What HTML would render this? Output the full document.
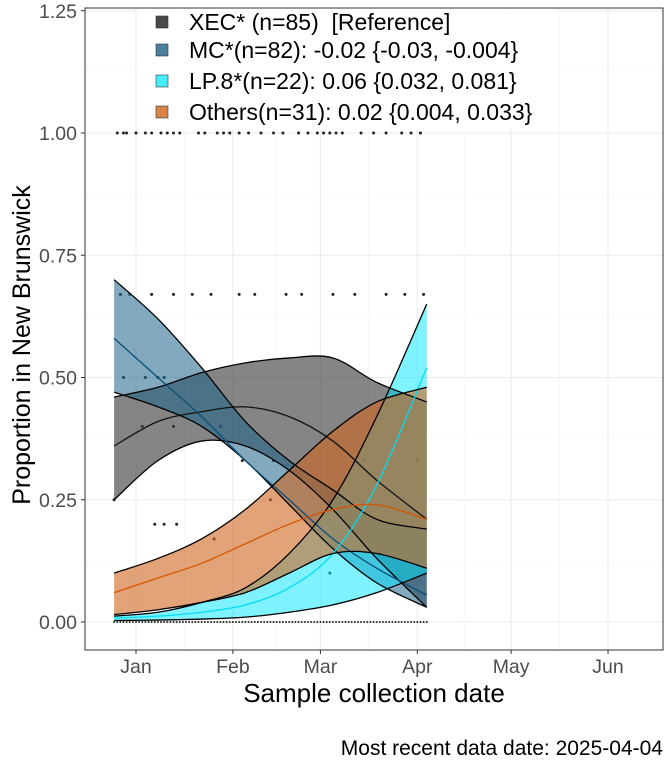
<!DOCTYPE html>
<html><head><meta charset="utf-8"><style>
body{margin:0;background:#fff}
svg{display:block;font-family:"Liberation Sans",Arial,sans-serif}
</style></head><body>
<svg id="chart" width="672" height="768" viewBox="0 0 672 768" xmlns="http://www.w3.org/2000/svg"></svg>
<script>
// ---- data ----
const days = [-7, 7, 21, 35, 49, 63, 77, 93];
const xecFit = [0.36, 0.41, 0.43, 0.44, 0.42, 0.37, 0.29, 0.21];
const xecLo  = [0.25, 0.33, 0.37, 0.36, 0.31, 0.23, 0.13, 0.03];
const xecHi  = [0.46, 0.48, 0.51, 0.53, 0.54, 0.54, 0.49, 0.45];
const mcFit = [0.58, 0.50, 0.42, 0.33, 0.25, 0.17, 0.11, 0.055];
const mcLo  = [0.47, 0.44, 0.40, 0.33, 0.24, 0.15, 0.08, 0.03];
const mcHi  = [0.70, 0.62, 0.52, 0.41, 0.33, 0.27, 0.21, 0.19];
const lpFit = [0.008, 0.012, 0.02, 0.035, 0.07, 0.14, 0.28, 0.52];
const lpLo  = [0.003, 0.004, 0.006, 0.01, 0.02, 0.035, 0.06, 0.10];
const lpHi  = [0.012, 0.02, 0.04, 0.07, 0.14, 0.25, 0.42, 0.65];
const otFit = [0.06, 0.09, 0.12, 0.16, 0.20, 0.23, 0.24, 0.21];
const otLo  = [0.015, 0.025, 0.04, 0.06, 0.10, 0.14, 0.14, 0.11];
const otHi  = [0.10, 0.13, 0.17, 0.23, 0.31, 0.39, 0.45, 0.48];
const yTicks = [0, 0.25, 0.5, 0.75, 1.0, 1.25];
const yTickLabels = ["0.00", "0.25", "0.50", "0.75", "1.00", "1.25"];
const xTickDays = [0, 31, 59, 90, 120, 151];
const xTickLabels = ["Jan", "Feb", "Mar", "Apr", "May", "Jun"];
const dotDays = [-6,-4,-3,0,3,5,8,10,12,14,20,22,26,28,30,33,36,40,44,47,52,55,58,60,62,64,66,72,76,80,85,88,91,-5,-2,5,12,18,24,33,38,48,53,63,70,80,86,92,-4,3,7,9,12,27,34,44,-7,2,6,9,13,25,43,62,73,90];
const dotVals = [1,1,1,1,1,1,1,1,1,1,1,1,1,1,1,1,1,1,1,1,1,1,1,1,1,1,1,1,1,1,1,1,1,0.67,0.67,0.67,0.67,0.67,0.67,0.67,0.67,0.67,0.67,0.67,0.67,0.67,0.67,0.67,0.5,0.5,0.5,0.5,0.4,0.4,0.33,0.33,0.25,0.4,0.2,0.2,0.2,0.17,0.25,0.1,0.33,0.33,0.33];

// ---- scales ----
const X0 = 136, PXD = 3.126, Y0 = 622, PXV = 489;
const sx = d => X0 + d * PXD;
const sy = v => Y0 - v * PXV;
const NS = "http://www.w3.org/2000/svg";
const svg = document.getElementById("chart");
function mk(tag, attrs, parent) {
  const e = document.createElementNS(NS, tag);
  for (const k in attrs) e.setAttribute(k, attrs[k]);
  (parent || svg).appendChild(e);
  return e;
}
function smooth(pts) {
  let d = "M" + pts[0][0] + "," + pts[0][1];
  for (let i = 0; i < pts.length - 1; i++) {
    const p0 = pts[Math.max(0, i - 1)], p1 = pts[i], p2 = pts[i + 1], p3 = pts[Math.min(pts.length - 1, i + 2)];
    const c1 = [p1[0] + (p2[0] - p0[0]) / 6, p1[1] + (p2[1] - p0[1]) / 6];
    const c2 = [p2[0] - (p3[0] - p1[0]) / 6, p2[1] - (p3[1] - p1[1]) / 6];
    d += " C" + c1 + " " + c2 + " " + p2;
  }
  return d;
}
const pts = arr => days.map((d, i) => [sx(d), sy(arr[i])]);

const bg = mk("rect", {x: 85, y: 8, width: 578, height: 642, fill: "#fff"});


[0.125, 0.375, 0.625, 0.875, 1.125].forEach(v => {
  const l = mk("line", {x1: 85, x2: 663, y1: sy(v), y2: sy(v), stroke: "#f3f3f3", "stroke-width": 0.6});
  
  
});
[-15.5, 15.5, 45, 74.5, 105, 135.5].forEach(d => {
  const l = mk("line", {x1: sx(d), x2: sx(d), y1: 8, y2: 650, stroke: "#f3f3f3", "stroke-width": 0.6});
  
  
});
yTicks.forEach(v => {
  const l = mk("line", {x1: 85, x2: 663, y1: sy(v), y2: sy(v), stroke: "#ebebeb", "stroke-width": 1.1});
  
  
});
xTickDays.forEach(d => {
  const l = mk("line", {x1: sx(d), x2: sx(d), y1: 8, y2: 650, stroke: "#ebebeb", "stroke-width": 1.1});
  
  
});

dotDays.forEach((d, i) => {
  const c = mk("circle", {cx: sx(d), cy: sy(dotVals[i]), r: 1.5, fill: "#222"});
  
  
});
for (let d = -7; d <= 93; d += 1) {
  const c = mk("circle", {cx: sx(d), cy: sy(0), r: 1, fill: "#222"});
  
  
}

const series = [
  {name: "xec", lo: xecLo, hi: xecHi, fit: xecFit, fill: "#3a3a3a", op: 0.62, line: "#111"},
  {name: "mc", lo: mcLo, hi: mcHi, fit: mcFit, fill: "#1d6289", op: 0.55, line: "#0a4f78"},
  {name: "lp8", lo: lpLo, hi: lpHi, fit: lpFit, fill: "#00e5ff", op: 0.5, line: "#00dcf5"},
  {name: "others", lo: otLo, hi: otHi, fit: otFit, fill: "#d0661e", op: 0.6, line: "#d35400"}
];
series.forEach(s => {
  const hp = pts(s.hi), lp = pts(s.lo).reverse();
  const d = smooth(hp) + " L" + lp[0] + smooth(lp).replace(/^M[^ C]+/, "") + " Z";
  const r = mk("path", {d: d, fill: s.fill, "fill-opacity": s.op, stroke: "none"});
  
  
});
series.forEach(s => {
  [s.hi, s.lo].forEach((arr, j) => {
    const e = mk("path", {d: smooth(pts(arr)), fill: "none", stroke: "#000", "stroke-width": 1.3});
    
    
  });
  const f = mk("path", {d: smooth(pts(s.fit)), fill: "none", stroke: s.line, "stroke-width": 1.3});
  
  
});

const br = mk("rect", {x: 85, y: 8, width: 578, height: 642, fill: "none", stroke: "#333", "stroke-width": 1});



yTicks.forEach((v, i) => {
  const t = mk("line", {x1: 81, x2: 85, y1: sy(v), y2: sy(v), stroke: "#333"});
  
  
  const l = mk("text", {x: 77, y: sy(v) + 7, "text-anchor": "end", "font-size": 19.5, fill: "#4d4d4d"});
  l.textContent = yTickLabels[i];
  
  
});
xTickDays.forEach((d, i) => {
  const t = mk("line", {x1: sx(d), x2: sx(d), y1: 650, y2: 654, stroke: "#333"});
  
  
  const l = mk("text", {x: sx(d), y: 673, "text-anchor": "middle", "font-size": 19.5, fill: "#4d4d4d"});
  l.textContent = xTickLabels[i];
  
  
});

const xt = mk("text", {x: 374, y: 702, "text-anchor": "middle", "font-size": 26, fill: "#000"});
xt.textContent = "Sample collection date";


const yt = mk("text", {x: 0, y: 0, "text-anchor": "middle", "font-size": 25, fill: "#000", transform: "translate(30,345) rotate(-90)"});
yt.textContent = "Proportion in New Brunswick";


const cap = mk("text", {x: 663, y: 755, "text-anchor": "end", "font-size": 21, fill: "#000"});
cap.textContent = "Most recent data date: 2025-04-04";



const lg = mk("g", {});


mk("rect", {x: 140, y: 9, width: 415, height: 120, fill: "#fff"}, lg);
const legendLabels = ["XEC* (n=85)  [Reference]", "MC*(n=82): -0.02 {-0.03, -0.004}", "LP.8*(n=22): 0.06 {0.032, 0.081}", "Others(n=31): 0.02 {0.004, 0.033}"];
const legendColors = ["#4a4a4a", "#4a7f9e", "#45eefc", "#dc8446"];
const legendY = [22, 50, 81, 112];
legendLabels.forEach((t, i) => {
  const sq = mk("rect", {x: 156, y: legendY[i] - 6, width: 12, height: 12, fill: legendColors[i], stroke: "#333", "stroke-width": 0.6}, lg);
  
  
  const tx = mk("text", {x: 189, y: legendY[i] + 8, "font-size": 23, fill: "#000"}, lg);
  tx.textContent = t;
  tx.style.whiteSpace = "pre";
  
  
});
</script>
</body></html>
